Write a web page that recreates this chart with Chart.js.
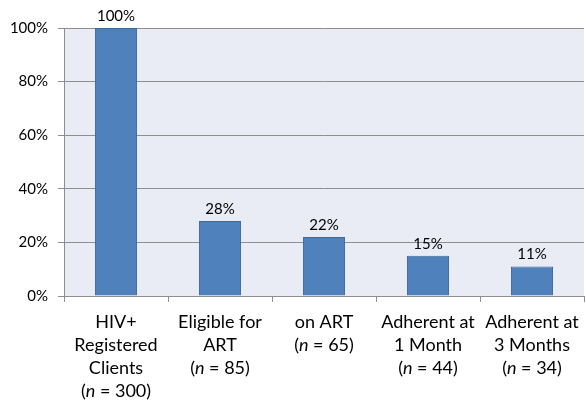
<!DOCTYPE html>
<html>
<head>
<meta charset="utf-8">
<script src="https://cdn.jsdelivr.net/npm/chart.js@4"></script>
<style>
  html, body { margin: 0; padding: 0; background: #fff; }
  #wrap { width: 586px; height: 406px; }
</style>
</head>
<body>
<div id="wrap"><canvas id="funnel" width="586" height="406"></canvas></div>
<script>
// data
const categories = [
    ['HIV+', 'Registered', 'Clients'],
    ['Eligible for', 'ART'],
    ['on ART'],
    ['Adherent at', '1 Month'],
    ['Adherent at', '3 Months']
];
const counts = [300, 85, 65, 44, 34];
const percents = [100, 28, 22, 15, 11];
const yMax = 100;
const yStep = 20;

const FONT = 'Lato, "Liberation Sans", sans-serif';
const CAT_SIZE = 18;

// light plot area fill
const plotBg = {
    id: 'plotBg',
    beforeDraw(chart) {
        const a = chart.chartArea, ctx = chart.ctx;
        ctx.save();
        ctx.fillStyle = '#E9ECF4';
        ctx.fillRect(a.left, a.top, a.right - a.left, a.bottom - a.top);
        ctx.restore();
    }
};

// value labels above the bars
const valueLabels = {
    id: 'valueLabels',
    afterDatasetsDraw(chart) {
        const ctx = chart.ctx;
        const meta = chart.getDatasetMeta(0);
        ctx.save();
        ctx.font = '15px ' + FONT;
        ctx.fillStyle = '#000';
        ctx.textAlign = 'center';
        ctx.textBaseline = 'middle';
        meta.data.forEach((bar, i) => {
            ctx.fillText(percents[i] + '%', bar.x, bar.y - 12);
        });
        ctx.restore();
    }
};

// category labels, with an italic n in the count line
const catLabels = {
    id: 'catLabels',
    afterDraw(chart) {
        const ctx = chart.ctx;
        const xs = chart.scales.x;
        const top = chart.chartArea.bottom + 26;
        const lh = 23;
        ctx.save();
        ctx.fillStyle = '#000';
        ctx.textBaseline = 'middle';
        categories.forEach((lines, i) => {
            const cx = xs.getPixelForTick(i);
            ctx.font = CAT_SIZE + 'px ' + FONT;
            ctx.textAlign = 'center';
            lines.forEach((s, j) => ctx.fillText(s, cx, top + j * lh));
            // "(n = 300)"
            const y = top + lines.length * lh;
            const parts = [['(', false], ['n', true], [' = ' + counts[i] + ')', false]];
            let w = 0;
            parts.forEach(p => {
                ctx.font = (p[1] ? 'italic ' : '') + CAT_SIZE + 'px ' + FONT;
                w += ctx.measureText(p[0]).width;
            });
            let x = cx - w / 2;
            ctx.textAlign = 'left';
            parts.forEach(p => {
                ctx.font = (p[1] ? 'italic ' : '') + CAT_SIZE + 'px ' + FONT;
                ctx.fillText(p[0], x, y);
                x += ctx.measureText(p[0]).width;
            });
        });
        ctx.restore();
    }
};

new Chart(document.getElementById('funnel').getContext('2d'), {
    type: 'bar',
    data: {
        labels: categories.map(c => c.join(' ')),
        datasets: [{
            data: percents,
            backgroundColor: '#4F81BD',
            borderColor: '#3C679A',
            borderWidth: 1,
            categoryPercentage: 1,
            barPercentage: 0.405
        }]
    },
    options: {
        responsive: false,
        animation: false,
        layout: { padding: { top: 28, right: 2, left: 0, bottom: 0 } },
        plugins: { legend: { display: false }, tooltip: { enabled: false } },
        scales: {
            x: {
                offset: true,
                grid: { offset: true, drawOnChartArea: false, color: '#8E8E8E', tickLength: 6 },
                border: { color: '#8E8E8E' },
                ticks: { display: false },
                afterFit(s) { s.height = 110; }
            },
            y: {
                min: 0,
                max: yMax,
                ticks: {
                    stepSize: yStep,
                    padding: 10,
                    color: '#000',
                    font: { family: FONT, size: 15 },
                    callback: v => v + '%'
                },
                grid: { color: '#8E8E8E', tickLength: 6 },
                border: { color: '#8E8E8E' },
                afterFit(s) { s.width = 64; }
            }
        }
    },
    plugins: [plotBg, valueLabels, catLabels]
});
</script>
</body>
</html>
